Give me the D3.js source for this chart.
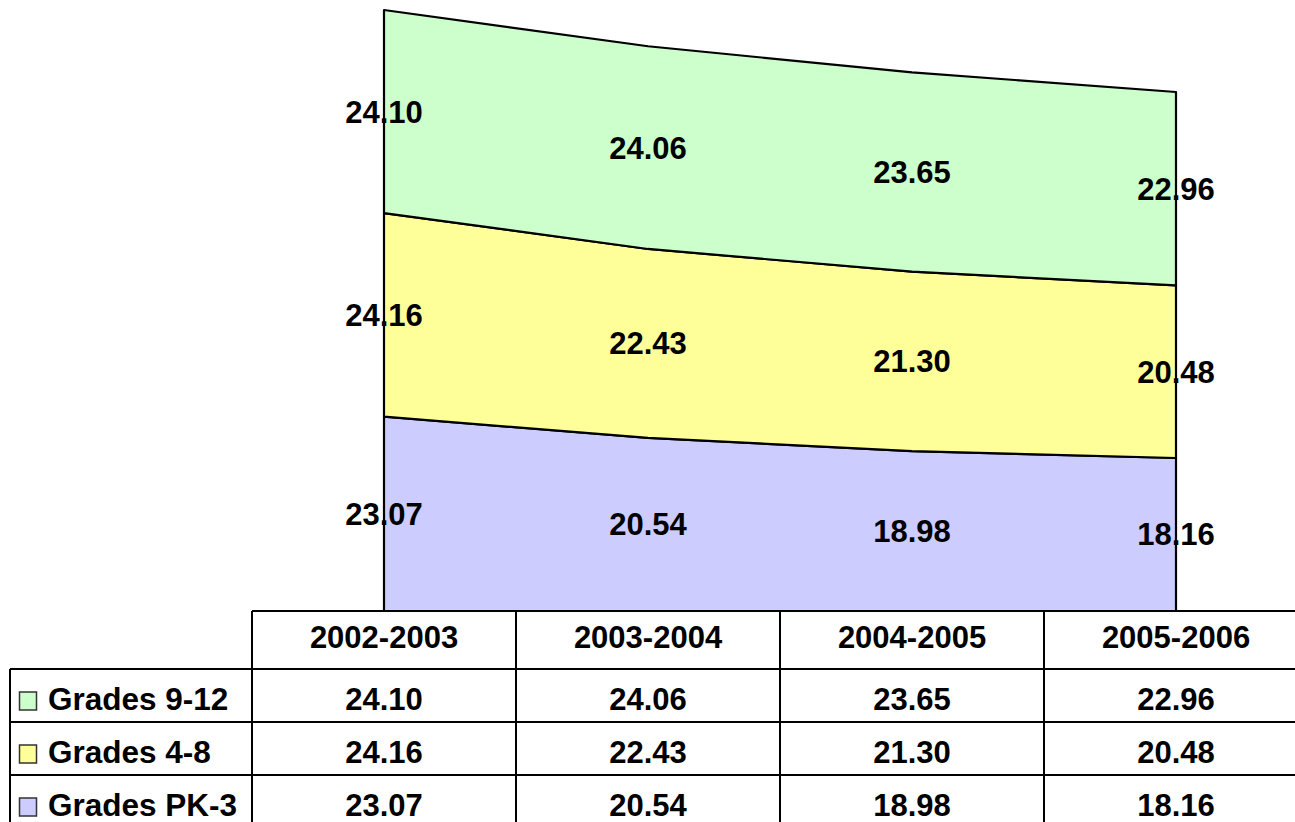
<!DOCTYPE html>
<html>
<head>
<meta charset="utf-8">
<script src="https://cdn.jsdelivr.net/npm/d3@7"></script>
<style>
  body { margin: 0; background: #fff; }
  svg text { font-family: Arial, "Liberation Sans", sans-serif; font-weight: bold; fill: #000; }
</style>
</head>
<body>
<script>
var years = ["2002-2003", "2003-2004", "2004-2005", "2005-2006"];
var seriesNames = ["Grades PK-3", "Grades 4-8", "Grades 9-12"];
var gradesPK3 = [23.07, 20.54, 18.98, 18.16];
var grades48 = [24.16, 22.43, 21.30, 20.48];
var grades912 = [24.10, 24.06, 23.65, 22.96];
var colors = ["#CCCCFF", "#FFFF99", "#CCFFCC"];

var W = 1295, H = 822;
var fs = 31;
var svg = d3.select("body").append("svg")
	.attr("width", W)
	.attr("height", H);

var rows = years.map(function(y, i) {
	return { year: y, "Grades PK-3": gradesPK3[i], "Grades 4-8": grades48[i], "Grades 9-12": grades912[i] };
});
var stacked = d3.stack().keys(seriesNames)(rows);

// table columns share the x band with the area chart
var x = d3.scaleBand().domain(years).range([252, 1308]);
var cx = function(d) { return x(d.data.year) + x.bandwidth() / 2; };
var y = d3.scaleLinear().domain([0, 72.52]).range([611, 0]);

var area = d3.area()
	.x(cx)
	.y0(function(d) { return y(d[0]); })
	.y1(function(d) { return y(d[1]); });

svg.selectAll("path.band")
	.data(stacked)
	.enter().append("path")
	.attr("class", "band")
	.attr("d", area)
	.attr("fill", function(d, i) { return colors[i]; })
	.attr("stroke", "#000")
	.attr("stroke-width", 2.2)
	.attr("stroke-linejoin", "round");

// value labels in the middle of each band
stacked.forEach(function(s) {
	svg.selectAll(null)
		.data(s)
		.enter().append("text")
		.attr("x", cx)
		.attr("y", function(d) { return y((d[0] + d[1]) / 2) + 11; })
		.attr("text-anchor", "middle")
		.attr("font-size", fs)
		.text(function(d) { return (d[1] - d[0]).toFixed(2); });
});

// data table
var tableRows = [
	{ name: "Grades 9-12", values: grades912, color: colors[2] },
	{ name: "Grades 4-8", values: grades48, color: colors[1] },
	{ name: "Grades PK-3", values: gradesPK3, color: colors[0] }
];
var headerTop = 611, headerH = 58, rowH = 53;
var rowTop = function(i) { return headerTop + headerH + i * rowH; };
var line = function(x1, y1, x2, y2) {
	svg.append("line")
		.attr("x1", x1).attr("y1", y1).attr("x2", x2).attr("y2", y2)
		.attr("stroke", "#000").attr("stroke-width", 2);
};

// horizontal lines
line(252, headerTop, 1308, headerTop);
for (var i = 0; i <= tableRows.length; i++) line(10, rowTop(i), 1308, rowTop(i));
// vertical lines
line(10, rowTop(0), 10, rowTop(tableRows.length));
years.forEach(function(yr) { line(x(yr), headerTop, x(yr), rowTop(tableRows.length)); });
line(1308, headerTop, 1308, rowTop(tableRows.length));

svg.selectAll("text.head")
	.data(years)
	.enter().append("text")
	.attr("class", "head")
	.attr("x", function(d) { return x(d) + x.bandwidth() / 2; })
	.attr("y", headerTop + 37)
	.attr("text-anchor", "middle")
	.attr("font-size", fs)
	.text(function(d) { return d; });

var tr = svg.selectAll("g.trow")
	.data(tableRows)
	.enter().append("g")
	.attr("class", "trow")
	.attr("transform", function(d, i) { return "translate(0," + rowTop(i) + ")"; });

tr.append("rect")
	.attr("x", 19.5)
	.attr("y", 23)
	.attr("width", 17)
	.attr("height", 18)
	.attr("fill", function(d) { return d.color; })
	.attr("stroke", "#333")
	.attr("stroke-width", 1.5);

tr.append("text")
	.attr("x", 48)
	.attr("y", 41)
	.attr("font-size", 31.5)
	.text(function(d) { return d.name; });

tr.selectAll("text.val")
	.data(function(d) { return d.values; })
	.enter().append("text")
	.attr("class", "val")
	.attr("x", function(d, i) { return x(years[i]) + x.bandwidth() / 2; })
	.attr("y", 41)
	.attr("text-anchor", "middle")
	.attr("font-size", fs)
	.text(function(d) { return d.toFixed(2); });
</script>
</body>
</html>
